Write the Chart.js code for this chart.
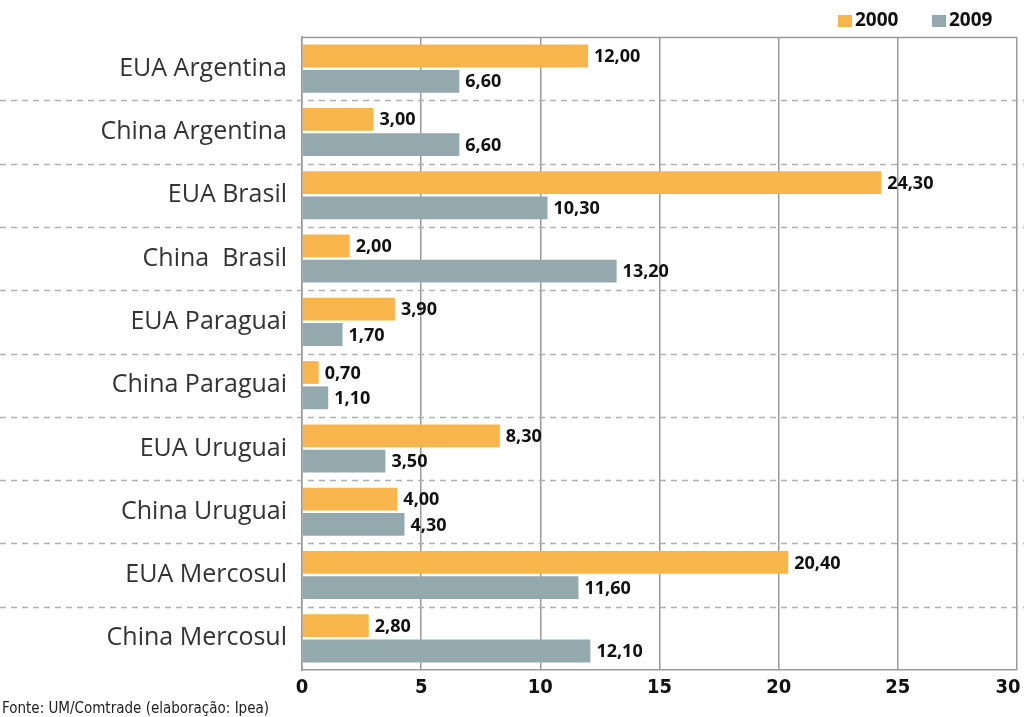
<!DOCTYPE html>
<html>
<head>
<meta charset="utf-8">
<script src="https://cdn.jsdelivr.net/npm/chart.js@4.4.1/dist/chart.umd.min.js"></script>
<style>
  html, body { margin: 0; padding: 0; background: #fff; }
  #wrap { position: relative; width: 1024px; height: 717px; }
  #fonte { position: absolute; left: 2px; top: 699px; font: 15px "Liberation Sans Narrow", "DejaVu Sans Condensed", "Roboto", sans-serif; color: #222; }
</style>
</head>
<body>
<div id="wrap">
  <canvas id="grafico" width="1024" height="717"></canvas>
  <div id="fonte">Fonte: UM/Comtrade (elaboração: Ipea)</div>
</div>
<script>
var categorias = ['EUA Argentina', 'China Argentina', 'EUA Brasil', 'China  Brasil', 'EUA Paraguai',
                  'China Paraguai', 'EUA Uruguai', 'China Uruguai', 'EUA Mercosul', 'China Mercosul'];
var valores2000 = [12.0, 3.0, 24.3, 2.0, 3.9, 0.7, 8.3, 4.0, 20.4, 2.8];
var valores2009 = [6.6, 6.6, 10.3, 13.2, 1.7, 1.1, 3.5, 4.3, 11.6, 12.1];
var ticksX = [0, 5, 10, 15, 20, 25, 30];

var corLaranja = '#f7b54b';
var corCinza = '#93a9ae';
var fonteCondensada = '"Liberation Sans Narrow", "DejaVu Sans Condensed", "Roboto", sans-serif';

// linhas tracejadas entre categorias, legenda e rotulos de valor
var extras = {
    id: 'extras',
    beforeDatasetsDraw: function (chart) {
        var c = chart.ctx, area = chart.chartArea, y = chart.scales.y;
        c.save();
        c.strokeStyle = '#b0b0b0';
        c.lineWidth = 1.5;
        c.setLineDash([6, 5]);
        for (var i = 1; i < categorias.length; i++) {
            var py = Math.round((y.getPixelForValue(i - 1) + y.getPixelForValue(i)) / 2) + 0.5;
            c.beginPath();
            c.moveTo(0, py);
            c.lineTo(chart.width, py);
            c.stroke();
        }
        c.setLineDash([]);
        c.strokeStyle = '#9a9a9a';
        c.beginPath();
        c.moveTo(area.left, area.top + 0.5);
        c.lineTo(area.right, area.top + 0.5);
        c.stroke();

        // legenda
        var itens = [['2000', corLaranja, 838], ['2009', corCinza, 932]];
        c.font = 'bold 19px "Open Sans", sans-serif';
        c.textBaseline = 'middle';
        itens.forEach(function (it) {
            c.fillStyle = it[1];
            c.fillRect(it[2], 15, 14, 12);
            c.fillStyle = '#111';
            c.fillText(it[0], it[2] + 17, 21);
        });
        c.restore();
    },
    afterDatasetsDraw: function (chart) {
        var c = chart.ctx;
        c.save();
        c.font = 'bold 18px "Open Sans", sans-serif';
        c.fillStyle = '#111';
        c.textBaseline = 'middle';
        chart.data.datasets.forEach(function (ds, di) {
            chart.getDatasetMeta(di).data.forEach(function (bar, i) {
                var txt = ds.data[i].toFixed(2).replace('.', ',');
                c.fillText(txt, bar.x + 6, bar.y + 1);
            });
        });
        c.restore();
    }
};

var ctx = document.getElementById('grafico').getContext('2d');
var grafico = new Chart(ctx, {
    type: 'bar',
    data: {
        labels: categorias,
        datasets: [
            { label: '2000', data: valores2000, backgroundColor: corLaranja, borderWidth: 0 },
            { label: '2009', data: valores2009, backgroundColor: corCinza, borderWidth: 0 }
        ]
    },
    options: {
        indexAxis: 'y',
        responsive: false,
        animation: false,
        layout: { padding: { top: 37, right: 7, bottom: 11, left: 0 } },
        categoryPercentage: 0.8,
        barPercentage: 0.9,
        plugins: {
            legend: { display: false },
            tooltip: { enabled: false }
        },
        scales: {
            x: {
                min: 0,
                max: 30,
                afterBuildTicks: function (s) { s.ticks = ticksX.map(function (v) { return { value: v }; }); },
                afterFit: function (s) { s.paddingRight = 0; },
                grid: { color: '#9a9a9a', lineWidth: 1.5, drawTicks: false },
                border: { color: '#9a9a9a', width: 1.5 },
                ticks: {
                    padding: 6,
                    color: '#111',
                    font: { family: fonteCondensada, size: 20, weight: 'bold' },
                    // o ultimo rotulo fica recuado para caber na borda
                    callback: function (v) { return v === 30 ? '30\u2003' : String(v); }
                }
            },
            y: {
                grid: { display: false, drawTicks: false },
                border: { color: '#9a9a9a', width: 1.5 },
                afterFit: function (s) { s.width = 302; },
                ticks: {
                    padding: 15,
                    color: '#333',
                    font: { family: '"Open Sans", sans-serif', size: 25 }
                }
            }
        }
    },
    plugins: [extras]
});
</script>
</body>
</html>
